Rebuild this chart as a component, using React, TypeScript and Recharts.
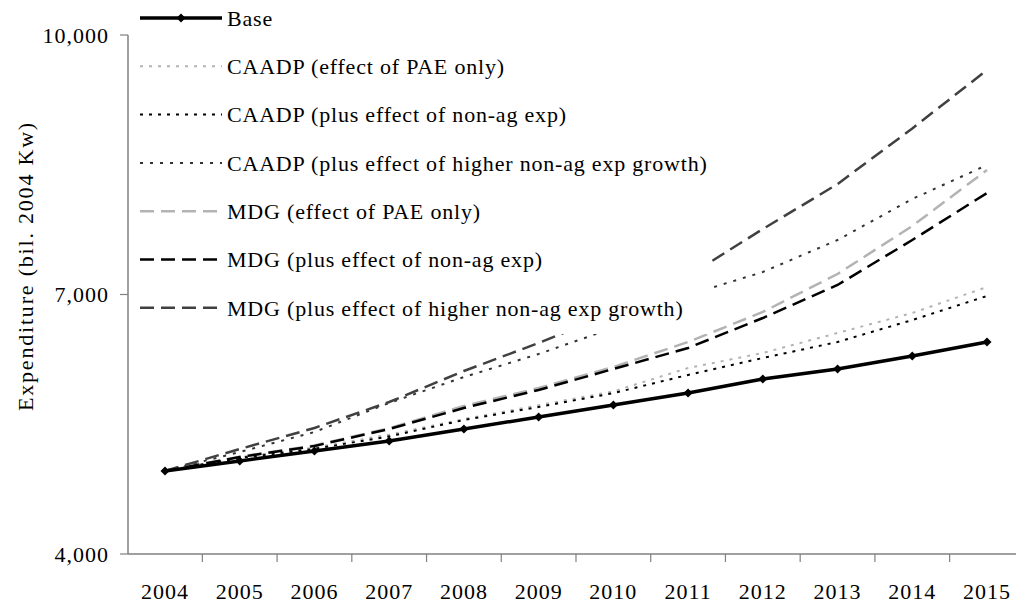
import { LineChart, Line, XAxis, YAxis, Legend } from 'recharts'

const years = ['2004', '2005', '2006', '2007', '2008', '2009', '2010', '2011', '2012', '2013', '2014', '2015']

const base = [4960, 5075, 5191, 5306, 5445, 5584, 5723, 5861, 6023, 6139, 6289, 6451]
const caadpPae = [4960, 5121, 5230, 5380, 5560, 5720, 5880, 6150, 6324, 6555, 6786, 7087]
const caadpNonAg = [4960, 5110, 5215, 5360, 5549, 5700, 5860, 6070, 6266, 6451, 6705, 6983]
const caadpHigher = [4960, 5179, 5410, 5746, 6046, 6312, 6613, 6994, 7260, 7630, 8104, 8497]
const mdgPae = [4960, 5125, 5255, 5455, 5711, 5919, 6162, 6451, 6798, 7237, 7792, 8439]
const mdgNonAg = [4960, 5121, 5249, 5445, 5688, 5896, 6139, 6382, 6728, 7110, 7630, 8173]
const mdgHigher = [4960, 5214, 5457, 5757, 6116, 6439, 6786, 7214, 7757, 8277, 8920, 9595]

const yTicks = [4000, 7000, 10000]

const FONT = '"Liberation Serif", "Times New Roman", serif'
const AXIS = '#808080'
const HALF_BAND = 37.36

const data = years.map((year, i) => ({
  year,
  base: base[i],
  caadpPae: caadpPae[i],
  caadpNonAg: caadpNonAg[i],
  caadpHigher: caadpHigher[i],
  mdgPae: mdgPae[i],
  mdgNonAg: mdgNonAg[i],
  mdgHigher: mdgHigher[i],
}))

// order as in the legend
const series = [
  { key: 'base', name: 'Base', color: '#000', width: 3.5, dash: undefined },
  { key: 'caadpPae', name: 'CAADP (effect of PAE only)', color: '#b3b3b3', width: 2, dash: '3 6' },
  { key: 'caadpNonAg', name: 'CAADP (plus effect of non-ag exp)', color: '#000', width: 2, dash: '3 6' },
  { key: 'caadpHigher', name: 'CAADP (plus effect of higher non-ag exp growth)', color: '#333', width: 2, dash: '3 7' },
  { key: 'mdgPae', name: 'MDG (effect of PAE only)', color: '#b3b3b3', width: 2.5, dash: '14 7' },
  { key: 'mdgNonAg', name: 'MDG (plus effect of non-ag exp)', color: '#000', width: 2.5, dash: '14 7' },
  { key: 'mdgHigher', name: 'MDG (plus effect of higher non-ag exp growth)', color: '#404040', width: 2.5, dash: '14 7' },
]

const diamond = (cx: number, cy: number, r = 4.5) =>
  `${cx},${cy - r} ${cx + r},${cy} ${cx},${cy + r} ${cx - r},${cy}`

function BaseDot(props: any) {
  const { cx, cy, index } = props
  if (cx == null || cy == null) return <g key={index} />
  return <polygon key={index} points={diamond(cx, cy)} fill="#000" />
}

function YearTick(props: any) {
  const { x, y, payload } = props
  return (
    <g>
      <line x1={x + HALF_BAND} x2={x + HALF_BAND} y1={y} y2={y + 8} stroke={AXIS} strokeWidth={1.2} />
      <text
        x={x}
        y={y + 37}
        dy="0.35em"
        textAnchor="middle"
        fontFamily={FONT}
        fontSize={22}
        letterSpacing={1}
        fill="#000"
      >
        {payload.value}
      </text>
    </g>
  )
}

function ChartLegend() {
  return (
    <svg width={578} height={334}>
      {series.map((s, i) => {
        const y = 18 + 48.3 * i
        return (
          <g key={s.key}>
            <line x1={8} x2={90} y1={y} y2={y} stroke={s.color} strokeWidth={s.width} strokeDasharray={s.dash} />
            {s.key === 'base' && <polygon points={diamond(49, y)} fill="#000" />}
            <text x={95} y={y} dy="0.35em" fontFamily={FONT} fontSize={22} letterSpacing={0.8} fill="#000">
              {s.name}
            </text>
          </g>
        )
      })}
    </svg>
  )
}

function YLabel() {
  return (
    <text
      transform="translate(25,266) rotate(-90)"
      textAnchor="middle"
      dy="0.35em"
      fontFamily={FONT}
      fontSize={22}
      letterSpacing={1.8}
      fill="#000"
    >
      Expenditure (bil. 2004 Kw)
    </text>
  )
}

export default function App() {
  return (
    <div style={{ position: 'fixed', left: 0, top: 0, width: 1016, height: 608, overflow: 'hidden', background: '#fff' }}>
      <LineChart width={1040} height={608} data={data} margin={{ top: 35, right: 16, bottom: 0, left: 0 }}>
        <XAxis
          dataKey="year"
          height={54}
          padding={{ left: 37, right: 37 }}
          interval={0}
          axisLine={{ stroke: AXIS, strokeWidth: 1.5 }}
          tickLine={false}
          tickSize={0}
          tickMargin={0}
          tick={<YearTick />}
        />
        <YAxis
          width={128}
          domain={[4000, 10000]}
          ticks={yTicks}
          allowDataOverflow
          tickFormatter={(v: number) => v.toLocaleString('en-US')}
          tickSize={8}
          tickMargin={11}
          axisLine={{ stroke: AXIS, strokeWidth: 1.5 }}
          tickLine={{ stroke: AXIS, strokeWidth: 1.2 }}
          tick={{ fill: '#000', fontSize: 22, fontFamily: FONT, letterSpacing: 1 }}
          label={{ content: <YLabel /> }}
        />
        {series
          .filter((s) => s.key !== 'base')
          .map((s) => (
            <Line
              key={s.key}
              type="linear"
              dataKey={s.key}
              name={s.name}
              stroke={s.color}
              strokeWidth={s.width}
              strokeDasharray={s.dash}
              dot={false}
              activeDot={false}
              isAnimationActive={false}
            />
          ))}
        <Line
          type="linear"
          dataKey="base"
          name="Base"
          stroke="#000"
          strokeWidth={3.5}
          dot={BaseDot}
          activeDot={false}
          isAnimationActive={false}
        />
        <Legend
          layout="horizontal"
          verticalAlign="middle"
          align="center"
          content={<ChartLegend />}
          wrapperStyle={{ left: 132, top: 0, width: 578, height: 334, background: '#fff' }}
        />
      </LineChart>
    </div>
  )
}
